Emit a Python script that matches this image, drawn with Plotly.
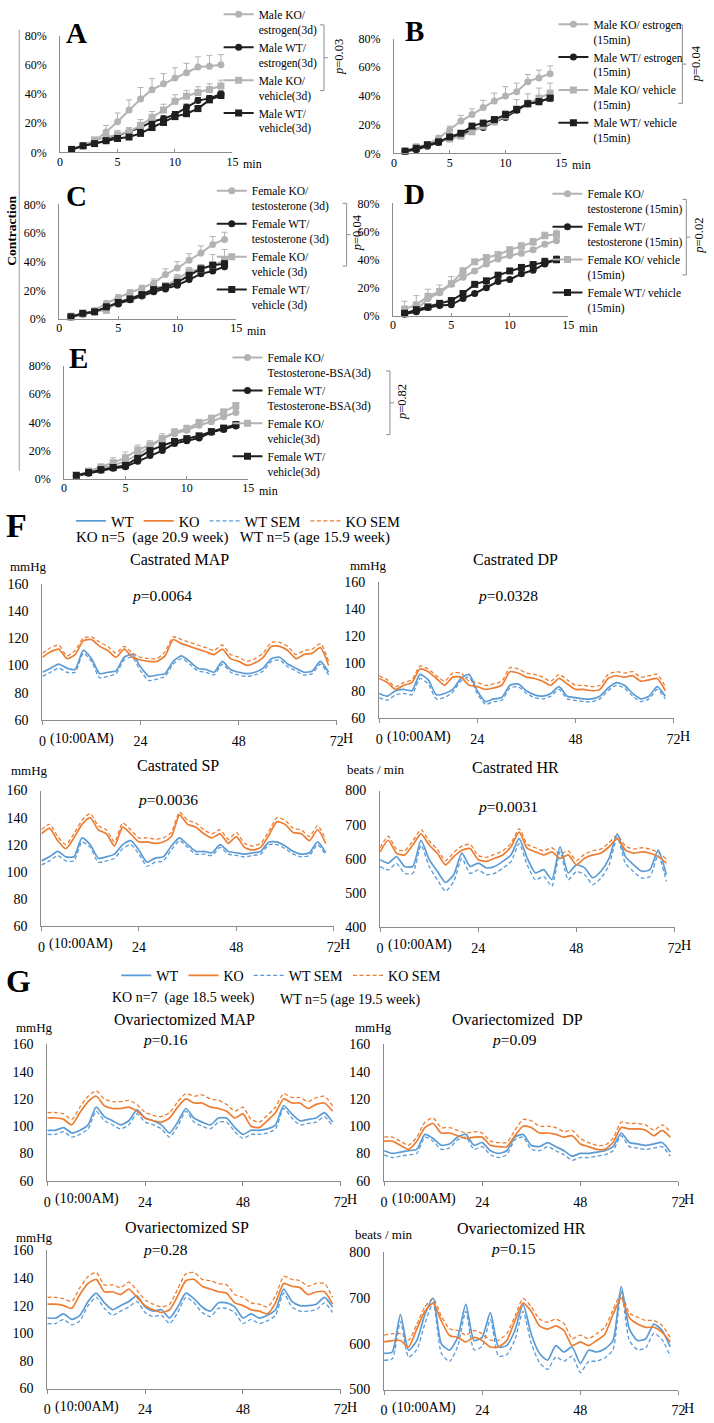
import plotly.graph_objects as go

W, H = 714, 1423
SERIF = "Liberation Serif, Times New Roman, serif"
GRAY = "#b3b3b3"
BLACK = "#1f1f1f"
BLUE = "#5b9bd5"
ORANGE = "#ed7d31"
AXIS = "#8c8c8c"

# ---------------- contraction data (minutes 1..14, % contraction) ----------------
minutes = list(range(1, 15))

A_ko_e = [2, 4.5, 8, 14, 21, 29, 36.5, 43, 47, 51, 54.5, 58.5, 59, 60]
A_ko_e_err = [0.5, 1, 2, 4.5, 6, 7, 8, 7.5, 7, 7, 6.5, 7, 7.5, 7]
A_wt_e = [2, 4.5, 6, 8, 11.5, 14, 17, 21, 23, 26, 31, 35.5, 37, 40]
A_wt_e_err = [0.5, 0.5, 1, 1, 1.5, 1.5, 2, 2, 2, 2, 2, 2, 2, 2]
A_ko_v = [2, 4.5, 8.5, 10, 12, 14, 18.5, 24, 29, 35, 38.5, 41, 43, 45.5]
A_ko_v_err = [0.5, 1, 1, 2, 3, 3, 4, 4, 4, 4.5, 4, 4, 4, 4]
A_wt_v = [2, 4.5, 6, 8, 9.5, 10.5, 13, 17, 20.5, 24.5, 26.5, 30, 36, 39]
A_wt_v_err = [0.5, 0.5, 1, 1, 1, 1, 1.5, 2, 2, 2, 2, 2, 2, 2]

B_ko_e = [1.5, 4, 6, 10.5, 16.5, 22.5, 27, 32, 36.5, 40, 43, 50, 52.5, 55.5]
B_ko_e_err = [0.5, 1, 1, 2, 2.5, 4, 4, 5, 5.5, 6.5, 6, 5, 5.5, 5.5]
B_wt_e = [1.5, 2.5, 5, 7.5, 11, 13, 16.5, 18, 22, 25, 30, 34.5, 36, 38.5]
B_wt_e_err = [0.5, 0.5, 0.5, 1, 1, 1, 1.5, 1.5, 1.5, 1.5, 1.5, 1.5, 1.5, 1.5]
B_ko_v = [1.5, 4.5, 6, 9, 10, 12, 15, 19, 22, 26, 31, 35, 38.5, 42]
B_ko_v_err = [0.5, 1, 1, 2, 2, 2, 2.5, 3, 3, 4, 6.5, 6.5, 7, 7]
B_wt_v = [1.5, 3.5, 6, 8, 11.5, 14, 19, 21, 23.5, 27, 30.5, 34.5, 36, 38.5]
B_wt_v_err = [0.5, 0.5, 1, 1, 1, 1, 1.5, 2, 2, 2, 2, 2, 2, 1.5]

C_ko_t = [2, 3.5, 6, 11, 15, 18.5, 21.5, 25, 31, 35.5, 41, 46, 52, 55.5]
C_ko_t_err = [0.5, 0.5, 1, 1.5, 2, 2, 2, 3, 4, 4.5, 4.5, 5, 5.5, 5]
C_wt_t = [1.5, 3.5, 5, 8, 10.5, 13.5, 16, 19, 21, 23.5, 27.5, 31.5, 33.5, 36.5]
C_wt_t_err = [0.5, 0.5, 0.5, 1, 1, 1, 1, 1, 1, 1, 1, 1, 1, 1]
C_ko_v = [2, 3.5, 5.5, 6, 12, 14.5, 17, 21.5, 23, 28, 33, 35, 37.5, 41]
C_ko_v_err = [0.5, 0.5, 1, 1.5, 2, 2, 2, 2, 2.5, 3, 3, 3, 7.5, 7.5]
C_wt_v = [1.5, 4, 5, 8.5, 11.5, 14, 17, 20.5, 22.5, 25.5, 30.5, 35, 37.5, 38.5]
C_wt_v_err = [0.5, 0.5, 0.5, 1, 1, 1, 1, 1, 1, 1.5, 1.5, 1.5, 2, 2]

D_ko_t = [1, 4, 12.5, 16.5, 22.5, 27.5, 32, 37, 40.5, 43, 44.5, 47, 51, 53.5]
D_ko_t_err = [1, 1.5, 2, 2, 2, 1.5, 1.5, 1.5, 1.5, 1.5, 1.5, 1.5, 1.5, 1.5]
D_wt_t = [1.5, 3, 6, 7.5, 8, 12.5, 16, 20, 24.5, 26, 30, 32.5, 37, 40]
D_wt_t_err = [0.5, 0.5, 0.5, 0.5, 0.5, 0.5, 1, 1, 1, 1, 1, 1, 1, 1]
D_ko_v = [5, 8, 14, 17.5, 23, 32, 38.5, 41.5, 43.5, 47, 49.5, 52.5, 57, 58]
D_ko_v_err = [5.5, 6.5, 5, 4.5, 5, 2, 1.5, 2, 2, 2, 2.5, 2.5, 2.5, 3]
D_wt_v = [2, 4.5, 6.5, 9, 11, 16, 22.5, 25, 29, 32, 34.5, 36.5, 38.5, 40]
D_wt_v_err = [0.5, 0.5, 0.5, 0.5, 1, 1, 1, 1, 1.5, 1.5, 1.5, 2, 2.5, 2.5]

E_ko_t = [2, 5, 7.5, 9.5, 12.5, 17, 23, 28.5, 32, 34.5, 38, 40.5, 44, 47]
E_ko_t_err = [0.5, 1, 1, 1.5, 2, 2, 2, 2, 2, 2, 2, 2, 2, 2]
E_wt_t = [2, 4, 6, 7.5, 8.5, 12.5, 16.5, 20, 25, 27, 29, 33, 35, 37.5]
E_wt_t_err = [0.5, 0.5, 0.5, 0.5, 0.5, 1, 1, 1, 1, 1, 1, 1, 1, 1]
E_ko_v = [2, 5.5, 8.5, 11.5, 15, 20.5, 24, 28.5, 33, 35.5, 40, 43, 47.5, 52]
E_ko_v_err = [0.5, 1, 1.5, 3.5, 4, 3.5, 3, 3.5, 2.5, 2.5, 2, 2, 1.5, 1.5]
E_wt_v = [2.5, 4.5, 6.5, 8, 9.5, 14.5, 20, 23.5, 26.5, 28.5, 30.5, 33.5, 36, 38.5]
E_wt_v_err = [0.5, 0.5, 0.5, 0.5, 1, 1, 1.5, 1.5, 1.5, 1.5, 1.5, 1.5, 1.5, 1.5]

pct_ticks = [0, 20, 40, 60, 80]
pct_labels = ["0%", "20%", "40%", "60%", "80%"]
min_ticks = [0, 5, 10, 15]

# ---------------- telemetry data (hours 0..70, every 2 h) ----------------
hours = list(range(0, 72, 2))
hour_ticks = [0, 24, 48, 72]
hour_labels = ["0", "24", "48", "72"]

F_MAP_KO = [106,110,112,105,108,118,119,114,111,106,112,106,104,103,103,107,119,116,114,112,110,108,112,105,103,100,102,106,114,114,111,105,108,109,113,100]
F_MAP_KO_SEM = [3,3,3,2,3,2,2,3,3,3,2,3,2,2,2,3,2,3,3,3,3,3,3,3,3,3,3,3,3,3,3,3,3,3,3,3]
F_MAP_WT = [95,98,101,98,97,111,105,94,95,96,106,108,99,92,93,94,103,107,103,98,97,95,103,97,95,94,95,98,105,106,101,98,95,96,103,95]
F_MAP_WT_SEM = [3,3,3,3,2,2,2,3,3,2,2,2,3,3,3,2,2,2,2,2,2,2,2,2,2,2,2,2,2,2,2,2,2,2,2,2]

F_DP_KO = [89,86,81,84,86,96,94,89,84,90,90,84,83,81,82,84,94,93,90,89,87,84,89,85,81,81,80,81,89,91,90,91,87,88,89,80]
F_DP_KO_SEM = [2,2,2,2,2,2,2,2,3,3,3,3,3,3,3,3,3,3,3,3,3,3,3,3,3,3,3,3,3,3,3,3,3,3,3,3]
F_DP_WT = [78,76,80,81,80,92,88,77,78,81,89,92,80,72,74,75,84,85,80,77,76,78,83,76,75,74,74,76,82,86,84,78,74,76,83,76]
F_DP_WT_SEM = [3,3,3,3,3,3,3,3,3,2,2,2,2,2,2,2,2,2,2,2,2,2,2,2,2,2,2,2,2,2,2,2,2,2,2,2]

F_SP_KO = [128,132,123,117,125,135,140,131,128,119,133,128,122,122,121,122,126,142,135,133,128,125,128,121,126,118,116,118,127,137,135,129,128,123,131,121]
F_SP_KO_SEM = [3,3,3,3,3,3,3,3,3,3,3,3,3,3,3,3,3,2,3,3,3,3,3,3,3,3,3,3,3,3,3,3,3,3,3,3]
F_SP_WT = [108,111,115,111,111,125,120,110,111,113,120,123,116,107,110,111,119,125,120,115,115,114,120,115,114,113,114,115,122,122,119,115,113,114,122,114]
F_SP_WT_SEM = [3,3,3,3,3,3,2,3,3,3,3,3,3,3,3,3,3,2,2,2,2,2,2,2,2,2,2,2,2,2,2,2,2,2,2,2]

F_HR_KO = [620,654,616,611,640,673,640,616,582,606,625,630,597,592,601,611,635,678,630,620,611,620,601,611,582,601,611,616,635,659,625,616,620,616,606,587]
F_HR_KO_SEM = [12,12,12,12,12,12,12,12,12,12,12,12,12,12,12,12,10,10,12,12,12,12,12,12,12,12,12,12,12,10,12,12,12,12,12,12]
F_HR_WT = [597,587,606,577,577,654,597,563,530,553,616,577,587,573,577,592,611,659,601,558,568,539,635,558,582,573,544,563,601,673,606,582,563,568,625,553]
F_HR_WT_SEM = [20,20,20,20,20,15,20,25,25,20,15,20,20,20,20,20,20,15,20,20,20,20,15,20,20,20,20,20,20,10,20,20,20,20,15,20]

G_MAP_KO = [106,106,105,101,110,118,122,115,113,113,114,111,106,104,103,106,114,120,117,117,114,113,111,106,109,100,99,104,110,120,117,117,113,116,117,111]
G_MAP_KO_SEM = [4,4,4,4,4,4,4,5,5,5,5,5,4,4,4,4,4,4,5,6,6,6,5,5,5,5,4,4,4,4,4,4,5,5,5,4]
G_MAP_WT = [97,97,99,95,97,101,114,107,104,101,104,112,106,104,101,95,103,113,106,103,101,106,106,99,94,97,97,98,101,115,109,104,105,106,110,103]
G_MAP_WT_SEM = [3,3,3,3,3,3,3,3,3,3,3,3,3,3,3,3,3,2,3,3,3,3,3,3,3,3,3,3,3,2,3,3,3,3,3,3]

G_DP_KO = [89,89,86,83,89,99,102,95,95,93,91,92,92,86,85,85,93,100,99,95,95,94,92,93,87,85,83,83,88,99,98,98,97,93,97,92]
G_DP_KO_SEM = [3,3,3,3,3,4,4,4,4,4,4,4,3,3,3,3,4,5,5,5,5,5,4,4,4,3,3,3,3,4,4,4,4,4,4,4]
G_DP_WT = [82,80,81,82,83,94,91,86,87,92,94,86,88,82,80,82,92,94,86,85,88,85,82,78,80,80,81,82,85,95,88,87,86,87,88,81]
G_DP_WT_SEM = [3,3,3,3,3,2,2,3,3,2,2,3,3,3,3,3,2,2,3,3,3,3,3,3,3,3,3,3,3,2,3,3,3,3,3,3]

G_SP_KO = [121,121,120,118,128,136,139,130,130,128,132,126,120,117,115,117,127,138,139,134,132,130,129,122,120,117,116,114,122,136,134,133,128,130,130,121]
G_SP_KO_SEM = [5,5,5,5,5,5,5,5,5,5,5,5,4,4,4,4,5,5,5,5,6,6,6,6,6,5,5,5,5,5,5,5,6,6,6,5]
G_SP_WT = [111,111,114,110,113,123,129,122,117,120,123,127,119,116,117,111,119,129,125,119,116,122,122,119,111,114,111,113,117,132,123,120,120,121,126,119]
G_SP_WT_SEM = [4,4,4,4,4,3,3,4,4,4,4,4,4,4,4,4,4,3,3,4,4,4,4,4,4,4,4,4,4,3,4,4,4,4,4,4]

G_HR_KO = [604,607,607,593,632,671,689,650,618,614,604,614,607,593,593,607,650,689,671,639,632,639,629,596,604,596,607,621,664,700,657,643,636,636,625,604]
G_HR_KO_SEM = [15,15,15,15,10,10,10,10,15,15,15,15,15,15,15,15,10,10,10,15,15,15,15,15,15,15,15,15,10,10,10,15,15,15,15,10]
G_HR_WT = [579,582,664,586,607,664,700,600,586,614,686,607,614,668,593,596,629,686,621,579,564,596,582,593,557,586,582,589,607,725,632,607,611,643,629,593]
G_HR_WT_SEM = [15,15,15,15,20,20,10,20,25,20,15,20,20,15,20,20,20,15,20,20,20,25,20,20,20,25,20,20,20,10,25,20,20,20,20,20]


def X(p):
    return p / W


def Y(p):
    return 1 - p / H


fig = go.Figure()
layout = {}
annotations = []
shapes = []


def ann(text, x, y, size, xanchor="center", yanchor="middle", angle=0, **kw):
    d = dict(text=text, x=X(x), y=Y(y), xref="paper", yref="paper", showarrow=False,
             xanchor=xanchor, yanchor=yanchor, textangle=angle,
             font=dict(family=SERIF, size=size, color="black"))
    d.update(kw)
    annotations.append(d)


def make_axes(i, box, xr, yr, xtv, xtt, ytv, ytt, small):
    sx = "" if i == 1 else str(i)
    x0, x1, yt, yb = box
    common = dict(showline=True, linecolor=AXIS, linewidth=1, showgrid=False,
                  zeroline=False, fixedrange=True)
    tf = dict(family=SERIF, size=12 if small else 14, color="black")
    layout["xaxis" + sx] = dict(domain=[X(x0), X(x1)], anchor="y" + sx, range=xr,
                                tickmode="array", tickvals=xtv, ticktext=xtt,
                                ticks="inside" if small else "outside", ticklen=3 if small else 4,
                                tickcolor=AXIS, tickfont=tf,
                                ticklabelstandoff=-2 if small else 4, **common)
    layout["yaxis" + sx] = dict(domain=[Y(yb), Y(yt)], anchor="x" + sx, range=yr,
                                tickmode="array", tickvals=ytv, ticktext=ytt, ticks="",
                                tickfont=tf, ticklabelstandoff=10, **common)
    return "x" + sx, "y" + sx


# ---------------- contraction panels A-E ----------------
contraction_panels = [
    dict(letter="A", letter_xy=(74, 13), box=(57, 232, 16, 135), legend="legend", leg_xy=(218, -20),
         series=[("Male KO/<br>estrogen(3d)", A_ko_e, A_ko_e_err, GRAY, "circle"),
                 ("Male WT/<br>estrogen(3d)", A_wt_e, A_wt_e_err, BLACK, "circle"),
                 ("Male KO/<br>vehicle(3d)", A_ko_v, A_ko_v_err, GRAY, "square"),
                 ("Male WT/<br>vehicle(3d)", A_wt_v, A_wt_v_err, BLACK, "square")],
         bracket=(325, 5, 72), p="0.03", p_xy=(340, 38)),
    dict(letter="B", letter_xy=(417, 11), box=(396, 566, 19, 136), legend="legend2", leg_xy=(558, -10),
         series=[("Male KO/ estrogen<br>(15min)", B_ko_e, B_ko_e_err, GRAY, "circle"),
                 ("Male WT/ estrogen<br>(15min)", B_wt_e, B_wt_e_err, BLACK, "circle"),
                 ("Male KO/ vehicle<br>(15min)", B_ko_v, B_ko_v_err, GRAY, "square"),
                 ("Male WT/ vehicle<br>(15min)", B_wt_v, B_wt_v_err, BLACK, "square")],
         bracket=(689, 5, 85), p="0.04", p_xy=(703, 45)),
    dict(letter="C", letter_xy=(74, 180), box=(56, 236, 188, 305), legend="legend3", leg_xy=(211, 160),
         series=[("Female KO/<br>testosterone (3d)", C_ko_t, C_ko_t_err, GRAY, "circle"),
                 ("Female WT/<br>testosterone (3d)", C_wt_t, C_wt_t_err, BLACK, "circle"),
                 ("Female KO/<br>vehicle (3d)", C_ko_v, C_ko_v_err, GRAY, "square"),
                 ("Female WT/<br>vehicle (3d)", C_wt_v, C_wt_v_err, BLACK, "square")],
         bracket=(348, 187, 251), p="0.04", p_xy=(358, 217)),
    dict(letter="D", letter_xy=(417, 178), box=(395, 573, 187, 302), legend="legend4", leg_xy=(552, 163),
         series=[("Female KO/<br>testosterone (15min)", D_ko_t, D_ko_t_err, GRAY, "circle"),
                 ("Female WT/<br>testosterone (15min)", D_wt_t, D_wt_t_err, BLACK, "circle"),
                 ("Female KO/ vehicle<br>(15min)", D_ko_v, D_ko_v_err, GRAY, "square"),
                 ("Female WT/ vehicle<br>(15min)", D_wt_v, D_wt_v_err, BLACK, "square")],
         bracket=(693, 183, 260), p="0.02", p_xy=(706, 220)),
    dict(letter="E", letter_xy=(76, 345), box=(61, 248, 353, 468), legend="legend5", leg_xy=(227, 330),
         series=[("Female KO/<br>Testosterone-BSA(3d)", E_ko_t, E_ko_t_err, GRAY, "circle"),
                 ("Female WT/<br>Testosterone-BSA(3d)", E_wt_t, E_wt_t_err, BLACK, "circle"),
                 ("Female KO/<br>vehicle(3d)", E_ko_v, E_ko_v_err, GRAY, "square"),
                 ("Female WT/<br>vehicle(3d)", E_wt_v, E_wt_v_err, BLACK, "square")],
         bracket=(392, 358, 423), p="0.82", p_xy=(405, 390)),
]

idx = 0
for spec in contraction_panels:
    idx += 1
    xa, ya = make_axes(idx, spec["box"], [0, 15], [0, 80], min_ticks,
                       [str(t) for t in min_ticks], pct_ticks, pct_labels, True)
    for name, vals, errs, color, symbol in spec["series"]:
        fig.add_trace(go.Scatter(
            x=minutes, y=vals, mode="lines+markers", name=name,
            line=dict(color=color, width=2),
            marker=dict(color=color, symbol=symbol, size=7),
            error_y=dict(type="data", symmetric=False, array=errs,
                         arrayminus=[0] * len(errs), color=color, thickness=1, width=3),
            xaxis=xa, yaxis=ya, legend=spec["legend"], cliponaxis=False, hoverinfo="skip"))
    lx, ly = spec["leg_xy"]
    layout[spec["legend"]] = dict(x=X(lx), y=Y(ly), xanchor="left", yanchor="top",
                                  font=dict(family=SERIF, size=11.5, color="black"),
                                  bgcolor="rgba(0,0,0,0)", valign="top", itemwidth=30,
                                  tracegroupgap=0)
    ann("<b>%s</b>" % spec["letter"], *spec["letter_xy"], 29)
    x0, x1, yt, yb = spec["box"]
    ann("min", x1 + 9, yb + 12, 12, xanchor="left")
    bx, by0, by1 = spec["bracket"]
    for (a, b, c, d) in [(bx - 4, by0, bx, by0), (bx, by0, bx, by1), (bx - 4, by1, bx, by1),
                         (bx, (by0 + by1) / 2, bx + 4, (by0 + by1) / 2)]:
        shapes.append(dict(type="line", xref="paper", yref="paper", x0=X(a), y0=Y(b),
                           x1=X(c), y1=Y(d), line=dict(color="#8c8c8c", width=1)))
    ann("<i>p</i>=%s" % spec["p"], *spec["p_xy"], 12.5, angle=-90)

ann("<b>Contraction</b>", 8, 215, 13.5, angle=-90)
shapes.append(dict(type="line", xref="paper", yref="paper", x0=X(15.5), x1=X(15.5),
                   y0=Y(10), y1=Y(460), line=dict(color="#a0a0a0", width=1)))

# ---------------- telemetry panels F, G ----------------
mmhg_ticks = [60, 80, 100, 120, 140, 160]
hrF_ticks = [400, 500, 600, 700, 800]
hrG_ticks = [500, 600, 700, 800]

tele_panels = [
    dict(box=(39, 338, 575, 714), yr=[60, 160], ytv=mmhg_ticks, title="Castrated MAP", title_xy=(178, 550),
         unit="mmHg", unit_xy=(25, 557), p="0.0064", p_xy=(160, 587),
         wt=F_MAP_WT, wt_sem=F_MAP_WT_SEM, ko=F_MAP_KO, ko_sem=F_MAP_KO_SEM, legend="legend6", show=True),
    dict(box=(381, 680, 573, 712), yr=[60, 160], ytv=mmhg_ticks, title="Castrated DP", title_xy=(520, 550),
         unit="mmHg", unit_xy=(370, 556), p="0.0328", p_xy=(512, 587),
         wt=F_DP_WT, wt_sem=F_DP_WT_SEM, ko=F_DP_KO, ko_sem=F_DP_KO_SEM, legend="legend6", show=False),
    dict(box=(38, 335, 786, 924), yr=[60, 160], ytv=mmhg_ticks, title="Castrated SP", title_xy=(177, 760),
         unit="mmHg", unit_xy=(26, 766), p="0.0036", p_xy=(167, 795),
         wt=F_SP_WT, wt_sem=F_SP_WT_SEM, ko=F_SP_KO, ko_sem=F_SP_KO_SEM, legend="legend6", show=False),
    dict(box=(382, 681, 786, 925), yr=[400, 800], ytv=hrF_ticks, title="Castrated HR", title_xy=(520, 762),
         unit="beats / min", unit_xy=(378, 765), p="0.0031", p_xy=(512, 802),
         wt=F_HR_WT, wt_sem=F_HR_WT_SEM, ko=F_HR_KO, ko_sem=F_HR_KO_SEM, legend="legend6", show=False),
    dict(box=(44, 342, 1045, 1184), yr=[60, 160], ytv=mmhg_ticks, title="Ovariectomized MAP", title_xy=(183, 1020),
         unit="mmHg", unit_xy=(31, 1028), p="0.16", p_xy=(164, 1040),
         wt=G_MAP_WT, wt_sem=G_MAP_WT_SEM, ko=G_MAP_KO, ko_sem=G_MAP_KO_SEM, legend="legend7", show=True),
    dict(box=(386, 685, 1045, 1184), yr=[60, 160], ytv=mmhg_ticks, title="Ovariectomized\u00a0\u00a0DP", title_xy=(522, 1020),
         unit="mmHg", unit_xy=(375, 1028), p="0.09", p_xy=(518, 1040),
         wt=G_DP_WT, wt_sem=G_DP_WT_SEM, ko=G_DP_KO, ko_sem=G_DP_KO_SEM, legend="legend7", show=False),
    dict(box=(44, 342, 1255, 1396), yr=[60, 160], ytv=mmhg_ticks, title="Ovariectomized SP", title_xy=(186, 1232),
         unit="mmHg", unit_xy=(31, 1242), p="0.28", p_xy=(164, 1254),
         wt=G_SP_WT, wt_sem=G_SP_WT_SEM, ko=G_SP_KO, ko_sem=G_SP_KO_SEM, legend="legend7", show=False),
    dict(box=(386, 685, 1257, 1397), yr=[500, 800], ytv=hrG_ticks, title="Ovariectomized HR", title_xy=(526, 1233),
         unit="beats / min", unit_xy=(386, 1239), p="0.15", p_xy=(517, 1253),
         wt=G_HR_WT, wt_sem=G_HR_WT_SEM, ko=G_HR_KO, ko_sem=G_HR_KO_SEM, legend="legend7", show=False),
]

for spec in tele_panels:
    idx += 1
    xa, ya = make_axes(idx, spec["box"], [0, 72], spec["yr"], hour_ticks, hour_labels,
                       spec["ytv"], [str(t) for t in spec["ytv"]], False)
    wt_low = [m - s for m, s in zip(spec["wt"], spec["wt_sem"])]
    ko_high = [m + s for m, s in zip(spec["ko"], spec["ko_sem"])]
    series = [("WT SEM", wt_low, BLUE, "4px,2.5px", 3),
              ("KO SEM", ko_high, ORANGE, "4px,2.5px", 4),
              ("WT", spec["wt"], BLUE, "solid", 1),
              ("KO", spec["ko"], ORANGE, "solid", 2)]
    for name, vals, color, dash, rank in series:
        fig.add_trace(go.Scatter(
            x=hours, y=vals, mode="lines", name=name,
            line=dict(color=color, width=1.7 if dash == "solid" else 1.3, dash=dash,
                      shape="spline", smoothing=0.6),
            xaxis=xa, yaxis=ya, legend=spec["legend"], showlegend=spec["show"],
            legendrank=rank, hoverinfo="skip"))
    x0, x1, yt, yb = spec["box"]
    ann(spec["title"], *spec["title_xy"], 16)
    ann(spec["unit"], *spec["unit_xy"], 13)
    ann("<i>p</i>=%s" % spec["p"], *spec["p_xy"], 15.5)
    annotations.append(dict(text="(10:00AM)", x=0, xref=xa, y=Y(yb + 19), yref="paper",
                            xanchor="left", yanchor="middle", xshift=6, showarrow=False,
                            font=dict(family=SERIF, size=14, color="black")))
    annotations.append(dict(text="H", x=72, xref=xa, y=Y(yb + 19), yref="paper",
                            xanchor="left", yanchor="middle", xshift=4, showarrow=False,
                            font=dict(family=SERIF, size=14, color="black")))

layout["legend6"] = dict(x=X(68), y=Y(511), xanchor="left", yanchor="middle", orientation="h",
                         font=dict(family=SERIF, size=14.5, color="black"), bgcolor="rgba(0,0,0,0)",
                         itemwidth=30, tracegroupgap=0)
layout["legend7"] = dict(x=X(114), y=Y(975), xanchor="left", yanchor="middle", orientation="h",
                         font=dict(family=SERIF, size=14, color="black"), bgcolor="rgba(0,0,0,0)",
                         itemwidth=30, tracegroupgap=0)

ann("<b>F</b>", 13, 516, 34)
ann("KO n=5\u00a0\u00a0(age 20.9 week)\u00a0\u00a0\u00a0WT n=5 (age 15.9 week)", 71, 528, 15, xanchor="left")
ann("<b>G</b>", 15, 980, 32)
ann("KO n=7\u00a0\u00a0(age 18.5 week)", 108, 998, 14, xanchor="left")
ann("WT n=5 (age 19.5 week)", 278, 1000, 14, xanchor="left")

fig.update_layout(
    width=W, height=H, margin=dict(l=0, r=0, t=0, b=0),
    paper_bgcolor="white", plot_bgcolor="white",
    font=dict(family=SERIF, color="black"),
    annotations=annotations, shapes=shapes, hovermode=False,
    **layout)

fig.write_html("out.html", config={"displayModeBar": False},
               post_script="document.body.style.margin='0px';document.body.style.overflow='hidden';")
